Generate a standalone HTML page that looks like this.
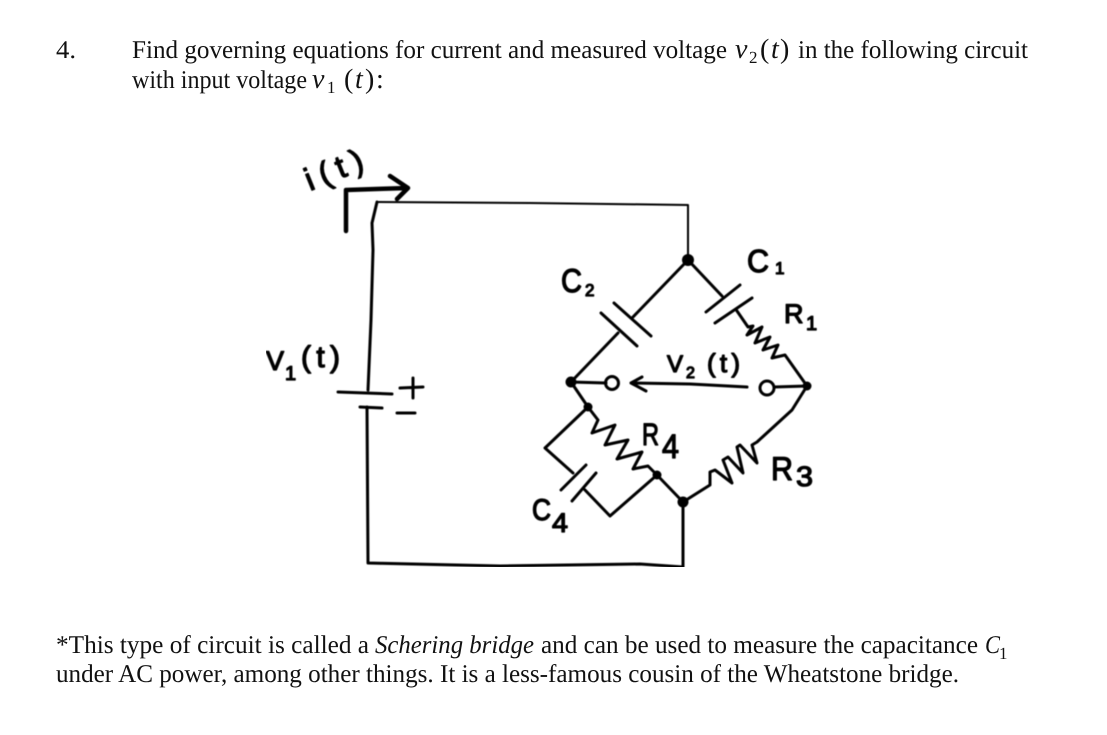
<!DOCTYPE html>
<html>
<head>
<meta charset="utf-8">
<style>
html,body{margin:0;padding:0;background:#fff;width:1107px;height:735px;overflow:hidden}
svg{display:block;text-rendering:geometricPrecision}
.t{font-family:"Liberation Serif",serif;font-size:25.5px;fill:#111}
.m{font-family:"Liberation Serif",serif;font-size:28px;fill:#111}
.i{font-style:italic}
.s{font-family:"Liberation Serif",serif;font-size:17px;fill:#111}
.h{font-family:"Liberation Sans",sans-serif;fill:#000;stroke:#000;stroke-width:1.3;stroke-linejoin:round}
.w{fill:none;stroke:#000;stroke-linecap:round;stroke-linejoin:round;stroke-width:3}
</style>
</head>
<body>
<svg width="1107" height="735" viewBox="0 0 1107 735" xmlns="http://www.w3.org/2000/svg">
<defs><filter id="b" x="0" y="0" width="100%" height="100%"><feGaussianBlur stdDeviation="0.4"/></filter></defs>
<rect width="1107" height="735" fill="#fff"/>
<text class="t" x="56" y="58" textLength="20" lengthAdjust="spacingAndGlyphs">4.</text>
<text class="t" x="132" y="58" textLength="595" lengthAdjust="spacingAndGlyphs">Find governing equations for current and measured voltage</text>
<text class="m i" x="735" y="58">v</text><text class="s" x="749" y="63">2</text>
<text class="m" x="760" y="58">(</text><text class="m i" x="771" y="58">t</text><text class="m" x="780" y="58">)</text>
<text class="t" x="798" y="58" textLength="230" lengthAdjust="spacingAndGlyphs">in the following circuit</text>
<text class="t" x="132" y="88" textLength="175" lengthAdjust="spacingAndGlyphs">with input voltage</text>
<text class="m i" x="312" y="88">v</text><text class="s" x="327" y="93">1</text>
<text class="m" x="344" y="88">(</text><text class="m i" x="355" y="88">t</text><text class="m" x="365" y="88">)</text><text class="m" x="376" y="88">:</text>

<text class="t" x="56" y="653" textLength="313" lengthAdjust="spacingAndGlyphs">*This type of circuit is called a</text>
<text class="t i" x="375" y="653" textLength="159" lengthAdjust="spacingAndGlyphs">Schering bridge</text>
<text class="t" x="541" y="653" textLength="437" lengthAdjust="spacingAndGlyphs">and can be used to measure the capacitance</text>
<text class="t i" x="985" y="653" textLength="15" lengthAdjust="spacingAndGlyphs">C</text><text class="s" x="999" y="659">1</text>
<text class="t" x="56" y="682" textLength="903" lengthAdjust="spacingAndGlyphs">under AC power, among other things. It is a less-famous cousin of the Wheatstone bridge.</text>

<g filter="url(#b)">
<!-- outer wires -->
<path class="w" d="M377 202 L372 223 L373 250 L371 320 L368 390"/>
<path class="w" style="stroke-width:2" d="M377 202 L530 203 L688 205 L688 260"/>
<path class="w" d="M367 407 L368 563 L500 566 L640 564 L683 567 L683 502"/>
<!-- battery -->
<path class="w" d="M338 392 L392 394 M360 407 L382 408 M400 388 L423 387 M413 378 L413 398 M397 413 L415 413"/>
<!-- current arrow -->
<path class="w" style="stroke-width:4.5" d="M346 231 L346 190 L408 188 M390 176 L408 188 L397 199"/>
<!-- C2 -->
<path class="w" d="M688 260 L633 317 M614 303 L651 336 M601 313 L637 346 M618 333 L571 382"/>
<!-- C1 R1 -->
<path class="w" d="M688 260 L722 296 M740 285 L706 312 M752 298 L715 323 M737 311 L748 327 L753 326 L747 335 L762 327 L755 343 L770 337 L763 350 L778 345 L772 358 L785 355 L807 386"/>
<!-- terminals & arrow -->
<path class="w" d="M571 382 L606 383 M774 387 L807 386 M747 387 L690 384 L631 383 M642 377 L631 383 L646 391"/>
<circle class="w" cx="612" cy="383" r="6.5"/>
<circle class="w" cx="767" cy="388" r="7"/>
<!-- R4 C4 -->
<path class="w" d="M571 382 L588 407 L598 420 L592 433 L615 425 L605 445 L628 440 L617 459 L642 452 L633 469 L648 466 L657 475 L683 502"/>
<path class="w" d="M588 407 L545 448 L573 473 M586 465 L561 490 M596 473 L572 501 M585 490 L610 516 L657 475"/>
<!-- R3 -->
<path class="w" d="M683 502 L710 485 L710 472 L715 470 L732 483 L723 460 L728 457 L743 473 L737 447 L740 445 L757 463 L752 445 L757 442 L792 410 L807 386"/>
<!-- nodes -->
<g fill="#000"><circle cx="688" cy="260" r="6"/><circle cx="571" cy="382" r="5.5"/><circle cx="807" cy="386" r="4.5"/><circle cx="588" cy="407" r="4.5"/><circle cx="657" cy="475" r="4.5"/><circle cx="683" cy="502" r="5.5"/></g>
<!-- hand labels -->
<text class="h" transform="translate(310 191) rotate(-22)" font-size="32" textLength="60" lengthAdjust="spacing">i(t)</text>
<text class="h" x="266" y="370" font-size="27" textLength="18" lengthAdjust="spacingAndGlyphs">V</text>
<text class="h" x="285" y="380" font-size="20">1</text>
<text class="h" x="301" y="367" font-size="30" textLength="39" lengthAdjust="spacing">(t)</text>
<text class="h" x="561" y="292" font-size="33" textLength="21" lengthAdjust="spacingAndGlyphs">C</text><text class="h" x="585" y="296" font-size="17">2</text>
<text class="h" x="747" y="272" font-size="32" textLength="22" lengthAdjust="spacingAndGlyphs">C</text><text class="h" x="775" y="274" font-size="17">1</text>
<text class="h" x="784" y="323" font-size="27">R</text><text class="h" x="806" y="330" font-size="20">1</text>
<text class="h" x="667" y="372" font-size="24">V</text><text class="h" x="686" y="378" font-size="16">2</text>
<text class="h" x="707" y="372" font-size="26" textLength="33" lengthAdjust="spacing">(t)</text>
<text class="h" x="642" y="445" font-size="31" textLength="17" lengthAdjust="spacingAndGlyphs">R</text>
<text class="h" x="662" y="458" font-size="34" textLength="17" lengthAdjust="spacingAndGlyphs">4</text>
<text class="h" x="771" y="480" font-size="33" textLength="22" lengthAdjust="spacingAndGlyphs">R</text>
<text class="h" x="796" y="486" font-size="28" textLength="17" lengthAdjust="spacingAndGlyphs">3</text>
<text class="h" x="532" y="520" font-size="30" textLength="19" lengthAdjust="spacingAndGlyphs">C</text>
<text class="h" x="552" y="532" font-size="27" textLength="16" lengthAdjust="spacingAndGlyphs">4</text>
</g>
</svg>
</body>
</html>
